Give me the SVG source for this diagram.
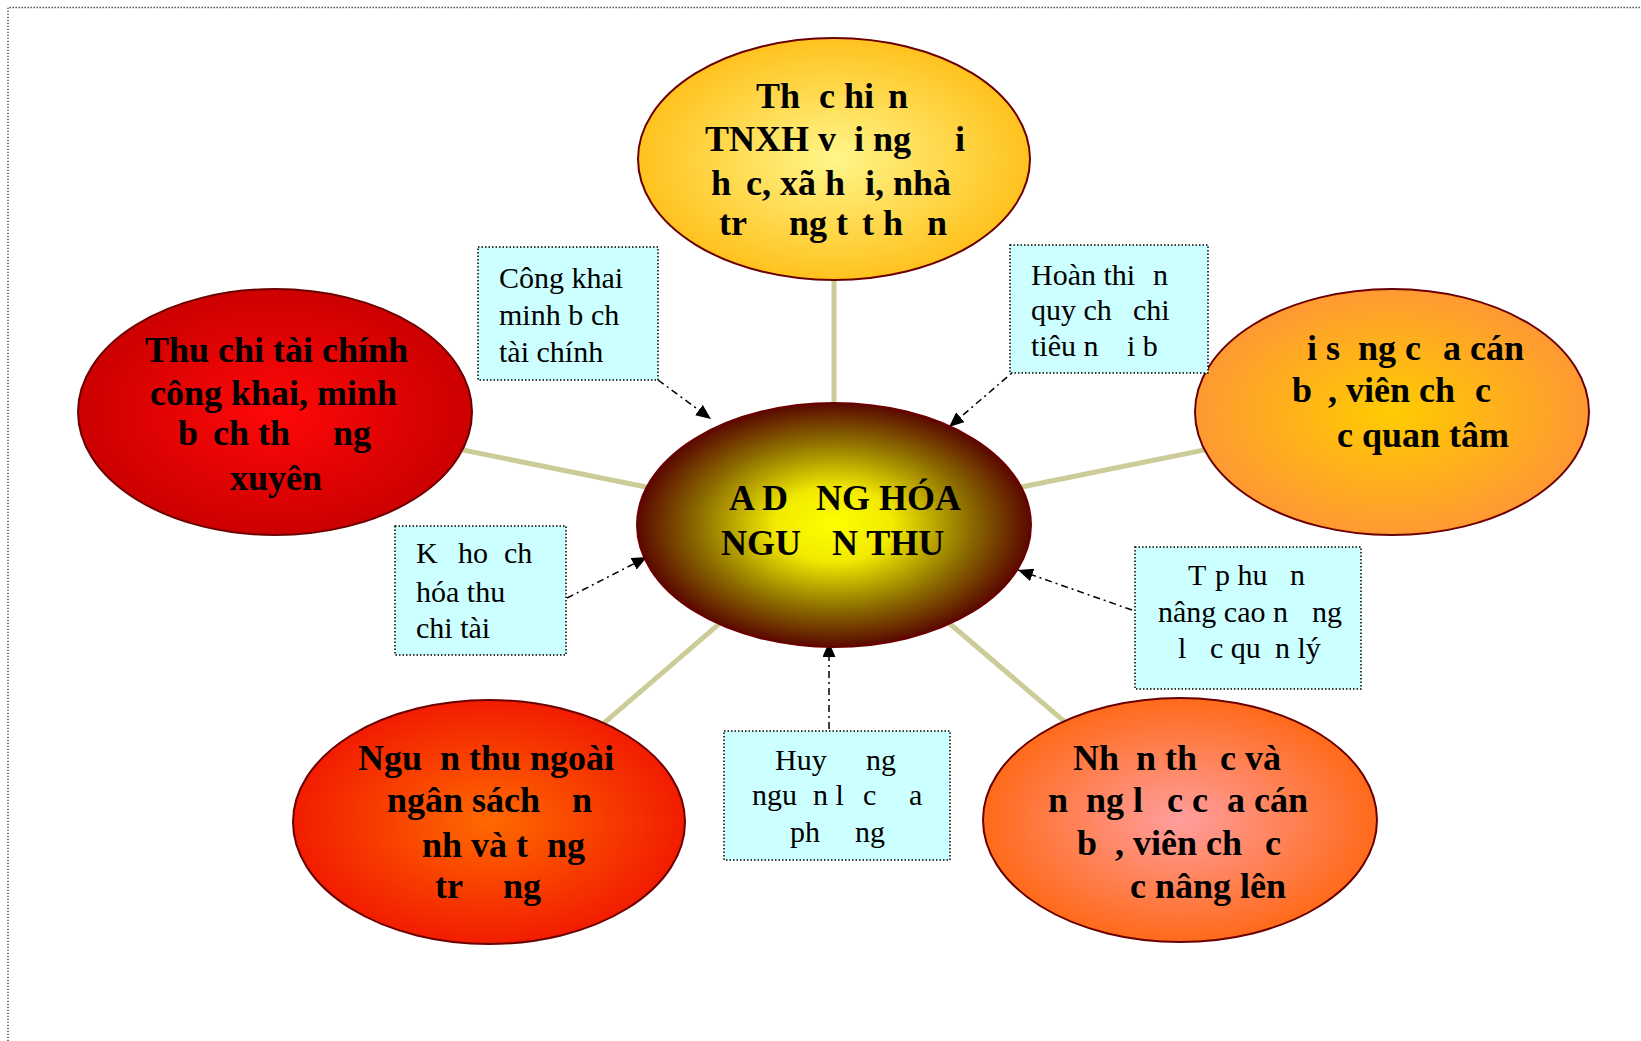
<svg xmlns="http://www.w3.org/2000/svg" width="1641" height="1041" viewBox="0 0 1641 1041">
<style>
.bold{font-family:"Liberation Serif","Times New Roman",serif;font-weight:bold;font-size:36px;fill:#000}
.box text{font-family:"Liberation Serif","Times New Roman",serif;font-size:30px;fill:#000}
.node ellipse{stroke:#6B0000;stroke-width:2}
.box rect{fill:#CCFFFF;stroke:#000;stroke-width:1.5;stroke-dasharray:1.5 2}
.spoke{stroke:#CCCC99;stroke-width:5;fill:none}
.dash{stroke:#000;stroke-width:1.5;fill:none;stroke-dasharray:7 4 2 4;marker-end:url(#arr)}
</style>
<defs>
<radialGradient id="gTop"><stop offset="0" stop-color="#FFF68A"/><stop offset="1" stop-color="#FFC21E"/></radialGradient>
<radialGradient id="gLeft"><stop offset="0" stop-color="#FF0808"/><stop offset="1" stop-color="#CC0000"/></radialGradient>
<radialGradient id="gRight"><stop offset="0" stop-color="#FFCC00"/><stop offset="1" stop-color="#FF9933"/></radialGradient>
<radialGradient id="gCenter"><stop offset="0" stop-color="#FFFF00"/><stop offset="0.3" stop-color="#F2EA00"/><stop offset="0.7" stop-color="#8A6A00"/><stop offset="1" stop-color="#5A0800"/></radialGradient>
<radialGradient id="gBL"><stop offset="0" stop-color="#FF6A00"/><stop offset="1" stop-color="#F21C00"/></radialGradient>
<radialGradient id="gBR"><stop offset="0" stop-color="#FF9E9E"/><stop offset="1" stop-color="#FF6A1A"/></radialGradient>
<marker id="arr" viewBox="0 0 15 13" refX="15" refY="6.5" markerWidth="15" markerHeight="13" markerUnits="userSpaceOnUse" orient="auto"><path d="M0,0 L15,6.5 L0,13 z" fill="#000"/></marker>
</defs>
<path d="M8,1041 V7.5 H1641" fill="none" stroke="#333" stroke-width="1.3" stroke-dasharray="1.3 1.7"/>
<g id="connectors">
<line class="spoke" x1="834" y1="159" x2="834" y2="525"/>
<line class="spoke" x1="275" y1="412" x2="834" y2="525"/>
<line class="spoke" x1="1392" y1="412" x2="834" y2="525"/>
<line class="spoke" x1="489" y1="822" x2="834" y2="525"/>
<line class="spoke" x1="1180" y1="820" x2="834" y2="525"/>
<path class="dash" d="M658,380 L711,419"/>
<path class="dash" d="M1020,366 L949,427"/>
<path class="dash" d="M567,598 L647,557"/>
<path class="dash" d="M1132,610 L1018,570"/>
<path class="dash" d="M829,729 L829,642"/>
</g>
<g id="node-top" class="node">
<ellipse cx="834" cy="159" rx="196" ry="121" fill="url(#gTop)"/>
<text class="bold"><tspan x="756" y="108">Th</tspan><tspan x="819" y="108">c hi</tspan><tspan x="888" y="108">n</tspan><tspan x="705" y="151">TNXH v</tspan><tspan x="854" y="151">i ng</tspan><tspan x="955" y="151">i</tspan><tspan x="711" y="195">h</tspan><tspan x="746" y="195">c, xã h</tspan><tspan x="865" y="195">i, nhà</tspan><tspan x="719" y="235">tr</tspan><tspan x="789" y="235">ng t</tspan><tspan x="862" y="235">t h</tspan><tspan x="927" y="235">n</tspan></text>
</g>
<g id="node-left" class="node">
<ellipse cx="275" cy="412" rx="197" ry="123" fill="url(#gLeft)"/>
<text class="bold"><tspan x="145" y="362">Thu chi tài chính</tspan><tspan x="150" y="405">công khai, minh</tspan><tspan x="178" y="445">b</tspan><tspan x="213" y="445">ch th</tspan><tspan x="333" y="445">ng</tspan><tspan x="230" y="490">xuyên</tspan></text>
</g>
<g id="node-right" class="node">
<ellipse cx="1392" cy="412" rx="197" ry="123" fill="url(#gRight)"/>
<text class="bold"><tspan x="1307" y="360">i s</tspan><tspan x="1358" y="360">ng c</tspan><tspan x="1443" y="360">a cán</tspan><tspan x="1292" y="402">b</tspan><tspan x="1328" y="402">, viên ch</tspan><tspan x="1475" y="402">c</tspan><tspan x="1337" y="447">c quan tâm</tspan></text>
</g>
<g id="node-center" class="node">
<ellipse cx="834" cy="525" rx="197" ry="122" fill="url(#gCenter)"/>
<text class="bold"><tspan x="729" y="510">A D</tspan><tspan x="816" y="510">NG HÓA</tspan><tspan x="721" y="555">NGU</tspan><tspan x="832" y="555">N THU</tspan></text>
</g>
<g id="node-bottom-left" class="node">
<ellipse cx="489" cy="822" rx="196" ry="122" fill="url(#gBL)"/>
<text class="bold"><tspan x="358" y="770">Ngu</tspan><tspan x="440" y="770">n thu ngoài</tspan><tspan x="387" y="812">ngân sách</tspan><tspan x="572" y="812">n</tspan><tspan x="422" y="857">nh và t</tspan><tspan x="547" y="857">ng</tspan><tspan x="435" y="898">tr</tspan><tspan x="503" y="898">ng</tspan></text>
</g>
<g id="node-bottom-right" class="node">
<ellipse cx="1180" cy="820" rx="197" ry="122" fill="url(#gBR)"/>
<text class="bold"><tspan x="1073" y="770">Nh</tspan><tspan x="1136" y="770">n th</tspan><tspan x="1220" y="770">c và</tspan><tspan x="1048" y="812">n</tspan><tspan x="1086" y="812">ng l</tspan><tspan x="1167" y="812">c c</tspan><tspan x="1227" y="812">a cán</tspan><tspan x="1077" y="855">b</tspan><tspan x="1115" y="855">, viên ch</tspan><tspan x="1265" y="855">c</tspan><tspan x="1130" y="898">c nâng lên</tspan></text>
</g>
<g id="box-congkhai" class="box">
<rect x="478" y="247" width="180" height="133"/>
<text><tspan x="499" y="288">Công khai</tspan><tspan x="499" y="325">minh b</tspan><tspan x="591" y="325">ch</tspan><tspan x="499" y="362">tài chính</tspan></text>
</g>
<g id="box-hoanthien" class="box">
<rect x="1010" y="245" width="198" height="128"/>
<text><tspan x="1031" y="285">Hoàn thi</tspan><tspan x="1153" y="285">n</tspan><tspan x="1031" y="320">quy ch</tspan><tspan x="1133" y="320">chi</tspan><tspan x="1031" y="356">tiêu n</tspan><tspan x="1127" y="356">i b</tspan></text>
</g>
<g id="box-kehoach" class="box">
<rect x="395" y="526" width="171" height="129"/>
<text><tspan x="416" y="563">K</tspan><tspan x="458" y="563">ho</tspan><tspan x="504" y="563">ch</tspan><tspan x="416" y="602">hóa thu</tspan><tspan x="416" y="638">chi tài</tspan></text>
</g>
<g id="box-taphuan" class="box">
<rect x="1135" y="547" width="226" height="142"/>
<text><tspan x="1188" y="585">T</tspan><tspan x="1215" y="585">p hu</tspan><tspan x="1290" y="585">n</tspan><tspan x="1158" y="622">nâng cao n</tspan><tspan x="1312" y="622">ng</tspan><tspan x="1178" y="658">l</tspan><tspan x="1210" y="658">c qu</tspan><tspan x="1275" y="658">n lý</tspan></text>
</g>
<g id="box-huydong" class="box">
<rect x="724" y="731" width="226" height="129"/>
<text><tspan x="775" y="770">Huy</tspan><tspan x="866" y="770">ng</tspan><tspan x="752" y="805">ngu</tspan><tspan x="813" y="805">n l</tspan><tspan x="863" y="805">c</tspan><tspan x="909" y="805">a</tspan><tspan x="790" y="842">ph</tspan><tspan x="855" y="842">ng</tspan></text>
</g>
</svg>
